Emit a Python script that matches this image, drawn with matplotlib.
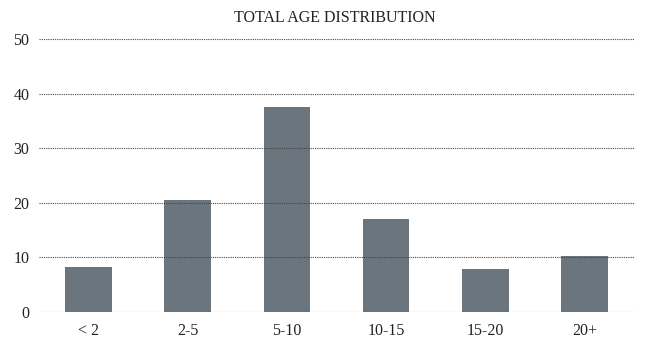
import matplotlib.pyplot as plt
import numpy as np

plt.rcParams["font.family"] = ["Liberation Serif", "DejaVu Serif"]

categories = ["< 2", "2-5", "5-10", "10-15", "15-20", "20+"]
counts = [8.3, 20.6, 37.6, 17.1, 7.9, 10.3]
yticks = [0, 10, 20, 30, 40, 50]

fig = plt.figure(figsize=(6.48, 3.39), dpi=100)
ax = fig.add_axes([39 / 648, 27 / 339, 595 / 648, 273 / 339])

x = np.arange(len(categories))
ax.bar(x, counts, width=0.47, color="#6b757e", zorder=1)

ax.set_xlim(-0.5, len(categories) - 0.5)
ax.set_ylim(0, 50)
ax.set_yticks(yticks)
ax.set_xticks(x)
ax.set_xticklabels(categories)

# dotted horizontal guides drawn over the bars
ax.grid(axis="y", color="#444444", linestyle=(0, (1, 1)), linewidth=0.8, zorder=2)
ax.set_axisbelow(False)
for side in ax.spines.values():
    side.set_visible(False)
ax.tick_params(length=0, labelsize=11.5, colors="#222222")
ax.tick_params(axis="y", pad=7)
ax.tick_params(axis="x", pad=8)

fig.text(0.517, 0.947, "TOTAL AGE DISTRIBUTION", ha="center", va="center",
         fontsize=11.5, color="#222222")

plt.savefig("out.png", dpi=100)
plt.close()
